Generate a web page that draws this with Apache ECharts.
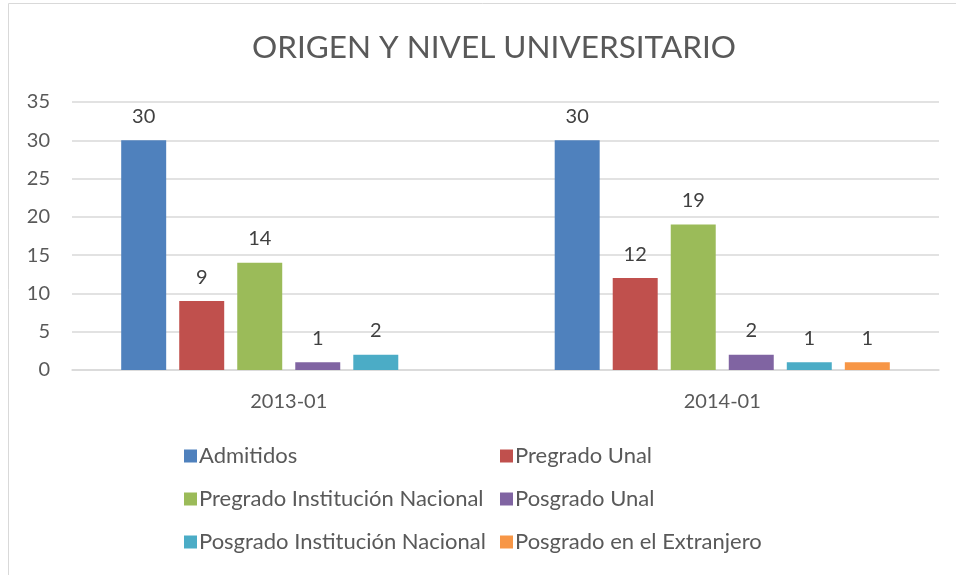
<!DOCTYPE html>
<html><head><meta charset="utf-8">
<script src="https://cdn.jsdelivr.net/npm/echarts@6/dist/echarts.min.js"></script>
<style>html,body{margin:0;padding:0;background:#fff}#c{width:956px;height:575px}</style>
</head><body><div id="c"></div>
<script>
const categories = ['2013-01', '2014-01'];
const seriesNames = ['Admitidos', 'Pregrado Unal', 'Pregrado Institución Nacional', 'Posgrado Unal', 'Posgrado Institución Nacional', 'Posgrado en el Extranjero'];
const admitidos = [30, 30];
const pregradoUnal = [9, 12];
const pregradoInstNac = [14, 19];
const posgradoUnal = [1, 2];
const posgradoInstNac = [2, 1];
const posgradoExtranjero = [null, 1];
const colors = ['#4f81bd', '#c0504d', '#9bbb59', '#8064a2', '#4bacc6', '#f79646'];
const yTicks = [0, 5, 10, 15, 20, 25, 30, 35];

const values = [admitidos, pregradoUnal, pregradoInstNac, posgradoUnal, posgradoInstNac, posgradoExtranjero];
const font = 'Lato, "Open Sans", sans-serif';
const chart = echarts.init(document.getElementById('c'));
chart.setOption({
  animation: false,
  color: colors,
  textStyle: {fontFamily: font, color: '#595959'},
  graphic: [{type: 'rect', shape: {x: 8.5, y: 3.5, width: 1200, height: 1200}, style: {fill: 'none', stroke: '#d9d9d9', lineWidth: 1}, silent: true}],
  title: {text: 'ORIGEN Y NIVEL UNIVERSITARIO', left: 489, textAlign: 'center', top: 27, textStyle: {fontFamily: font, fontSize: 31.5, fontWeight: 'normal', color: '#595959'}},
  grid: {left: 72, right: 17, top: 102, bottom: 205, containLabel: false},
  legend: [
    {orient: 'vertical', left: 179, top: 440, itemWidth: 13, itemHeight: 13, itemGap: 21, icon: 'rect',
     data: [seriesNames[0], seriesNames[2], seriesNames[4]],
     textStyle: {fontFamily: font, fontSize: 22, color: '#595959', padding: [0, 0, 0, -3]}},
    {orient: 'vertical', left: 495, top: 440, itemWidth: 13, itemHeight: 13, itemGap: 21, icon: 'rect',
     data: [seriesNames[1], seriesNames[3], seriesNames[5]],
     textStyle: {fontFamily: font, fontSize: 22, color: '#595959', padding: [0, 0, 0, -3]}}
  ],
  xAxis: {type: 'category', data: categories,
    axisLine: {lineStyle: {color: '#d9d9d9', width: 1.5}}, axisTick: {show: false},
    axisLabel: {fontFamily: font, fontSize: 20, color: '#595959', margin: 22}},
  yAxis: {type: 'value', min: yTicks[0], max: yTicks[yTicks.length - 1], interval: 5,
    axisLine: {show: false}, axisTick: {show: false},
    splitLine: {lineStyle: {color: '#d9d9d9', width: 1.5}},
    axisLabel: {fontFamily: font, fontSize: 20, color: '#595959', margin: 22}},
  series: seriesNames.map((n, i) => ({
    name: n, type: 'bar', data: values[i], barGap: '29%', barCategoryGap: '22.7%',
    label: {show: true, position: 'top', distance: 14, fontFamily: font, fontSize: 20, color: '#404040'}
  }))
});
</script></body></html>
